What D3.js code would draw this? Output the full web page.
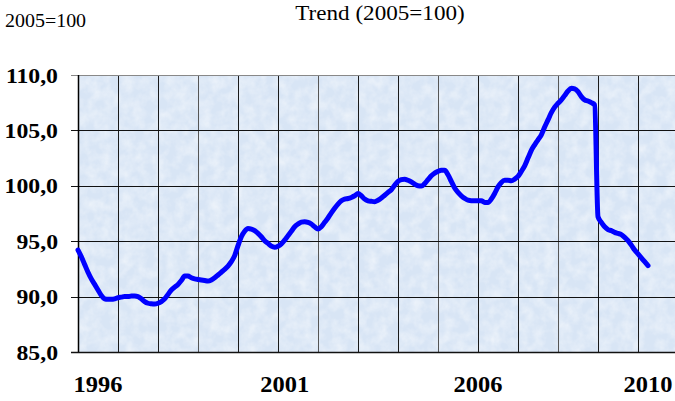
<!DOCTYPE html>
<html>
<head>
<meta charset="utf-8">
<script src="https://cdn.jsdelivr.net/npm/d3@7"></script>
<style>
  body { margin: 0; background: #fff; }
</style>
</head>
<body>
<div id="chart"></div>
<script>
// Monthly trend index (2005=100), one row per year, starting January 1996
const startYear = 1996;
const trend1996 = [94.2, 93.6, 92.9, 92.2, 91.6, 91.1, 90.6, 90.1, 89.8, 89.75, 89.75, 89.8];
const trend1997 = [89.9, 89.95, 90.0, 90.0, 90.05, 90.05, 90.0, 89.8, 89.55, 89.4, 89.35, 89.33];
const trend1998 = [89.4, 89.55, 89.8, 90.2, 90.6, 90.85, 91.1, 91.45, 91.85, 91.85, 91.7, 91.6];
const trend1999 = [91.55, 91.5, 91.45, 91.4, 91.5, 91.7, 91.95, 92.2, 92.45, 92.75, 93.15, 93.7];
const trend2000 = [94.6, 95.4, 95.9, 96.15, 96.1, 95.95, 95.7, 95.4, 95.05, 94.8, 94.55, 94.45];
const trend2001 = [94.55, 94.75, 95.1, 95.5, 95.9, 96.3, 96.55, 96.72, 96.76, 96.7, 96.55, 96.3];
const trend2002 = [96.1, 96.3, 96.7, 97.1, 97.55, 97.97, 98.35, 98.65, 98.8, 98.85, 98.95, 99.1];
const trend2003 = [99.3, 99.1, 98.8, 98.65, 98.6, 98.57, 98.7, 98.9, 99.15, 99.4, 99.65, 100.05];
const trend2004 = [100.4, 100.55, 100.6, 100.5, 100.35, 100.15, 100.0, 99.98, 100.2, 100.55, 100.9, 101.15];
const trend2005 = [101.3, 101.4, 101.4, 101.0, 100.4, 99.8, 99.4, 99.1, 98.87, 98.7, 98.65, 98.65];
const trend2006 = [98.65, 98.65, 98.5, 98.5, 98.8, 99.3, 99.9, 100.3, 100.5, 100.5, 100.45, 100.6];
const trend2007 = [100.85, 101.3, 101.8, 102.5, 103.2, 103.7, 104.15, 104.6, 105.3, 105.95, 106.6, 107.1];
const trend2008 = [107.45, 107.75, 108.15, 108.55, 108.8, 108.75, 108.5, 108.05, 107.75, 107.65, 107.5, 107.3];
const trend2009 = [97.2, 96.7, 96.3, 96.05, 95.95, 95.8, 95.7, 95.6, 95.35, 95.05, 94.65, 94.2];
const trend2010 = [93.85, 93.5, 93.15, 92.8];

// Year labels on the x axis and the month (counted from Jan 1996) they sit under
const yearLabels = ["1996", "2001", "2006", "2010"];
const yearLabelMonths = [6, 62, 120, 171];

// Y axis ticks
const yTicks = [85, 90, 95, 100, 105, 110];

const trend = [].concat(trend1996, trend1997, trend1998, trend1999, trend2000,
  trend2001, trend2002, trend2003, trend2004, trend2005, trend2006, trend2007,
  trend2008, trend2009, trend2010);
const data = trend.map((v, i) => ({ month: i, value: v }));

const W = 675, H = 401;
const margin = { top: 75, right: -3, bottom: 49, left: 78 };
const serif = "'Liberation Serif', 'Times New Roman', 'DejaVu Serif', serif";

// The original picture is a little wider than tall, so text gets stretched sideways
function stretch(sel, k) {
  sel.each(function () {
    const w = this.getComputedTextLength();
    d3.select(this)
      .attr("textLength", w * k)
      .attr("lengthAdjust", "spacingAndGlyphs");
  });
}

const svg = d3.select("#chart").append("svg")
  .attr("width", W)
  .attr("height", H)
  .attr("font-family", serif);

// Mottled texture for the plot background
const defs = svg.append("defs");
const filt = defs.append("filter")
  .attr("id", "mottle")
  .attr("x", 0).attr("y", 0).attr("width", 1).attr("height", 1);
filt.append("feTurbulence")
  .attr("type", "fractalNoise")
  .attr("baseFrequency", 0.09)
  .attr("numOctaves", 3)
  .attr("seed", 4);
filt.append("feColorMatrix")
  .attr("type", "matrix")
  .attr("values", "0 0 0 0 1  0 0 0 0 1  0 0 0 0 1  1.4 0 0 0 -0.45");

// x runs Jan 1996 .. Jan 2011, one gridline per year
const x = d3.scaleLinear()
  .domain([0, (2011 - startYear) * 12])
  .range([margin.left, W - margin.right]);

const y = d3.scaleLinear()
  .domain([85, 110])
  .range([H - margin.bottom, margin.top]);

// Plot background
svg.append("rect")
  .attr("x", margin.left)
  .attr("y", margin.top)
  .attr("width", x.range()[1] - margin.left)
  .attr("height", y(85) - y(110))
  .attr("fill", "#d8e5f5");

svg.append("rect")
  .attr("x", margin.left)
  .attr("y", margin.top)
  .attr("width", x.range()[1] - margin.left)
  .attr("height", y(85) - y(110))
  .attr("filter", "url(#mottle)")
  .attr("opacity", 0.6);

// Vertical gridlines, one per year
const yearMonths = d3.range(12, (2011 - startYear) * 12, 12);
svg.selectAll(".vgrid")
  .data(yearMonths)
  .enter()
  .append("line")
  .attr("x1", d => Math.round(x(d)) + 0.5)
  .attr("x2", d => Math.round(x(d)) + 0.5)
  .attr("y1", y(110))
  .attr("y2", y(85))
  .attr("stroke", (d, i) => i % 3 === 2 ? "#555" : "#1a1a1a")
  .attr("stroke-width", 1);

// Horizontal gridlines plus the small ticks on the left
svg.selectAll(".hgrid")
  .data(yTicks)
  .enter()
  .append("line")
  .attr("x1", margin.left - 7)
  .attr("x2", W)
  .attr("y1", d => Math.round(y(d)) + 0.5)
  .attr("y2", d => Math.round(y(d)) + 0.5)
  .attr("stroke", d => d === 110 ? "#888" : "#111")
  .attr("stroke-width", d => d === 85 ? 1.5 : 1);

// Left axis line
svg.append("line")
  .attr("x1", margin.left + 0.5)
  .attr("x2", margin.left + 0.5)
  .attr("y1", y(110))
  .attr("y2", y(85))
  .attr("stroke", "#000")
  .attr("stroke-width", 1.5);

// Y labels with comma decimals
const fmt = d3.format(".1f");
svg.selectAll(".ylab")
  .data(yTicks)
  .enter()
  .append("text")
  .attr("x", 58)
  .attr("y", d => y(d) + 7.5)
  .attr("text-anchor", "end")
  .attr("font-weight", "bold")
  .attr("font-size", 21)
  .text(d => fmt(d).replace(".", ","))
  .call(stretch, 1.13);

// Year labels
svg.selectAll(".xlab")
  .data(yearLabels)
  .enter()
  .append("text")
  .attr("x", (d, i) => x(yearLabelMonths[i]))
  .attr("y", 392)
  .attr("text-anchor", "middle")
  .attr("font-weight", "bold")
  .attr("font-size", 23.5)
  .text(d => d)
  .call(stretch, 1.04);

// Trend line
svg.append("path")
  .datum(data)
  .attr("fill", "none")
  .attr("stroke", "#0000ff")
  .attr("stroke-width", 5)
  .attr("stroke-linejoin", "round")
  .attr("stroke-linecap", "round")
  .attr("d", d3.line()
    .x(d => x(d.month))
    .y(d => y(d.value))
    .curve(d3.curveMonotoneX));

// Titles
svg.append("text")
  .attr("x", 5)
  .attr("y", 27)
  .attr("font-size", 19)
  .text("2005=100")
  .call(stretch, 1.05);

svg.append("text")
  .attr("x", 380)
  .attr("y", 20)
  .attr("text-anchor", "middle")
  .attr("font-size", 21)
  .text("Trend (2005=100)")
  .call(stretch, 1.1);
</script>
</body>
</html>
